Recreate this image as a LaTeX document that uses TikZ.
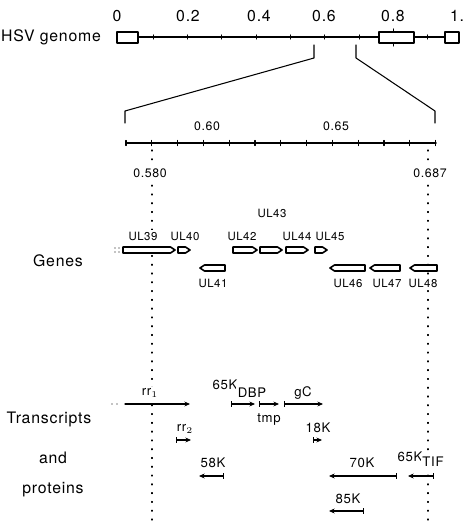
\documentclass[tikz,border=0pt]{standalone}
\usepackage{fontspec}
\setmainfont{TeX Gyre Heros}[LetterSpace=5]
\usetikzlibrary{arrows.meta}

\begin{document}
\begin{tikzpicture}[x=0.02cm,y=-0.02cm,line cap=round,line join=round,
    every node/.style={inner sep=1pt},
    biglab/.style={font=\fontsize{9}{10}\selectfont},
    numlab/.style={font=\fontsize{7}{8}\selectfont,fill=white},
    genelab/.style={font=\fontsize{6.5}{7}\selectfont,fill=white},
    protlab/.style={font=\fontsize{7.5}{8}\selectfont,fill=white},
    genebox/.style={draw,fill=white,line width=0.9pt},
    guide/.style={line width=0.6pt,dash pattern=on 0.6pt off 4.4pt},
    fwd/.style={line width=0.6pt,-{Stealth[length=3.2pt,width=2.8pt]}},
    span/.style={line width=0.6pt,{Bar[width=3pt]}-{Stealth[length=3.2pt,width=2.8pt]}}]
  \useasboundingbox (0,0) rectangle (462,526);
  % dotted guides at 0.580 and 0.687
  \draw[guide] (152,150) -- (152,526);
  \draw[guide] (428,150) -- (428,526);
  % whole genome
  \draw[line width=0.6pt] (138,37) -- (445,37);
  \foreach \k in {1,...,9} {
    \draw[line width=0.6pt] ({119+34.3*\k},35) -- ({119+34.3*\k},39);
  }
  \draw[genebox,line width=0.7pt] (117,32) rectangle (138,43);
  \draw[genebox,line width=0.7pt] (379,32) rectangle (414,43);
  \draw[genebox,line width=0.7pt] (445,32) rectangle (459,43);
  \draw[line width=0.6pt] (393.4,29) -- (393.4,32);
  \draw[line width=0.6pt] (393.4,43) -- (393.4,46);
  \node[biglab] (hsv) at (51,37) {HSV genome};
  \node[biglab] (g0) at (117,16) {0};
  \node[biglab] (g2) at (188,16) {0.2};
  \node[biglab] (g4) at (259,16) {0.4};
  \node[biglab] (g6) at (324,16) {0.6};
  \node[biglab] (g8) at (393,16) {0.8};
  \node[biglab,anchor=west] (g10) at (448,16) {1.};
  % expansion
  \coordinate (PL) at (314,45);
  \coordinate (PR) at (356,45);
  \coordinate (QL) at (125,123);
  \coordinate (QR) at (435,123);
  \draw[line width=0.6pt] (PL) -- (314,58) -- (125,111) -- (QL);
  \draw[line width=0.6pt] (PR) -- (356,58) -- (435,111) -- (QR);
  % expanded map axis
  \draw[line width=0.9pt] (126,143) -- (436,143);
  \foreach \k in {0,...,12} {
    \draw[line width=0.6pt] ({126+25.8*\k},140.5) -- ({126+25.8*\k},145.5);
  }
  \node[numlab] (m60) at (207,126) {0.60};
  \node[numlab] (m65) at (336,126) {0.65};
  \node[numlab] (m580) at (150,173) {0.580};
  \node[numlab] (m687) at (430,173) {0.687};
  % genes
  \foreach \x in {115,119} {
    \fill (\x,248) circle[radius=0.7];
    \fill (\x,252) circle[radius=0.7];
  }
  \foreach \a/\b in {123/175,178/190,233/257,260/282,286/308,315/327} {
    \draw[genebox] (\a,247) -- (\b-4.5,247) -- (\b,250) -- (\b-4.5,253) -- (\a,253) -- cycle;
  }
  \foreach \a/\b in {200/225,330/365,370/400,410/437} {
    \draw[genebox] (\a,268) -- (\a+4.5,265) -- (\b,265) -- (\b,271) -- (\a+4.5,271) -- cycle;
  }
  \foreach \n/\x/\y in {39/143/236,40/185/236,42/242/236,44/297/236,45/330/236,
      43/272/213,41/213/283,46/348/283,47/387/283,48/423/283} {
    \node[genelab] (ul\n) at (\x,\y) {UL\n};
  }
  \node[biglab] (genes) at (58,261) {Genes};
  % transcripts and proteins
  \foreach \x in {112,117} {
    \fill (\x,404) circle[radius=0.7];
  }
  \draw[fwd] (125,404) -- (190,404);
  \draw[span] (231,404) -- (255,404);
  \draw[span] (259,404) -- (279,404);
  \draw[span] (284,404) -- (323,404);
  \draw[span] (176,440) -- (191,440);
  \draw[span] (313,440) -- (322,440);
  \draw[span] (224,476) -- (199,476);
  \draw[span] (397,476) -- (329,476);
  \draw[span] (434,476) -- (408,476);
  \draw[span] (364,511) -- (329,511);
  \node[protlab] (rr1) at (150,393) {rr$_1$};
  \node[protlab] (rr2) at (185,429) {rr$_2$};
  \node[protlab] (k65a) at (225,385) {65K};
  \node[protlab] (dbp) at (252,393) {DBP};
  \node[protlab] (tmp) at (269,420) {tmp};
  \node[protlab] (gc) at (303,393) {gC};
  \node[protlab] (k18) at (318,428) {18K};
  \node[protlab] (k58) at (213,463) {58K};
  \node[protlab] (k70) at (362,463) {70K};
  \node[protlab] (k65b) at (410,457) {65K};
  \node[protlab] (tif) at (433,462) {TIF};
  \node[protlab] (k85) at (348,499) {85K};
  \node[biglab] (transcripts) at (49,419) {Transcripts};
  \node[biglab] (and) at (53,458) {and};
  \node[biglab] (proteins) at (53,490) {proteins};
\end{tikzpicture}
\end{document}
